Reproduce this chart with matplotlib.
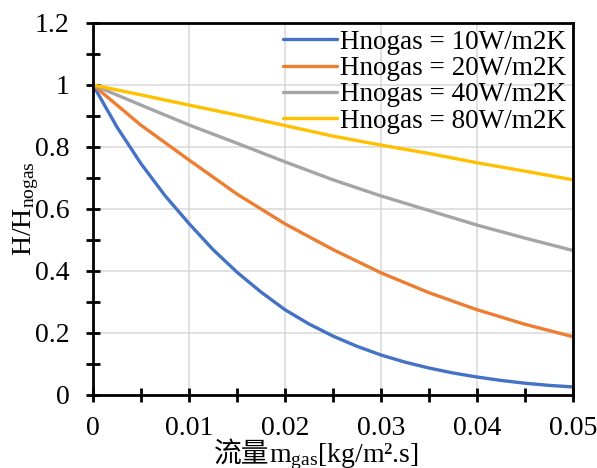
import matplotlib
matplotlib.use("Agg")
import matplotlib.pyplot as plt
from matplotlib.ticker import MultipleLocator, FuncFormatter

plt.rcParams['font.family'] = ['Liberation Serif', 'Noto Sans CJK SC']
plt.rcParams['mathtext.fontset'] = 'custom'
plt.rcParams['mathtext.rm'] = 'Liberation Serif'
plt.rcParams['mathtext.it'] = 'Liberation Serif:italic'

# gas mass flux [kg/m2.s]
m_gas = [0.0, 0.005, 0.01, 0.015, 0.02, 0.025, 0.03, 0.035, 0.04, 0.045, 0.05]
# finer steps for the steepest curve
m_gas_fine = [0.0, 0.0025, 0.005, 0.0075, 0.01, 0.0125, 0.015, 0.0175, 0.02,
              0.0225, 0.025, 0.0275, 0.03, 0.0325, 0.035, 0.0375, 0.04,
              0.0425, 0.045, 0.0475, 0.05]

# H/Hnogas for each no-gas heat transfer coefficient
h10 = [1.0, 0.864, 0.746, 0.643, 0.553, 0.469, 0.396, 0.332, 0.275,
       0.229, 0.19, 0.157, 0.129, 0.106, 0.087, 0.071, 0.058,
       0.047, 0.038, 0.031, 0.026]
h20 = [1.0, 0.87, 0.758, 0.648, 0.552, 0.469, 0.394, 0.33, 0.275, 0.228, 0.188]
h40 = [1.0, 0.935, 0.871, 0.812, 0.752, 0.694, 0.642, 0.595, 0.548, 0.506, 0.466]
h80 = [1.0, 0.968, 0.935, 0.903, 0.869, 0.835, 0.806, 0.779, 0.749, 0.722, 0.694]

labels = ['Hnogas = 10W/m2K', 'Hnogas = 20W/m2K',
          'Hnogas = 40W/m2K', 'Hnogas = 80W/m2K']
colors = ['#4472C4', '#ED7D31', '#A5A5A5', '#FFC000']

fig = plt.figure(figsize=(5.97, 4.68), dpi=100)
ax = fig.add_axes([0.1558, 0.156, 0.804, 0.795])

series = [(m_gas_fine, h10), (m_gas, h20), (m_gas, h40), (m_gas, h80)]
for (xs, ys), lab, c in zip(series, labels, colors):
    ax.plot(xs, ys, color=c, lw=2.4, label=lab, solid_capstyle='round')

ax.set_xlim(0, 0.05)
ax.set_ylim(0, 1.2)
ax.xaxis.set_major_locator(MultipleLocator(0.01))
ax.xaxis.set_minor_locator(MultipleLocator(0.005))
ax.yaxis.set_major_locator(MultipleLocator(0.2))
ax.yaxis.set_minor_locator(MultipleLocator(0.1))
fmt = FuncFormatter(lambda v, p: '%g' % round(v, 4))
ax.xaxis.set_major_formatter(fmt)
ax.yaxis.set_major_formatter(fmt)

ax.grid(True, which='major', color='#d9d9d9', lw=1.1)
ax.set_axisbelow(True)
for s in ax.spines.values():
    s.set_linewidth(2)
    s.set_color('black')

ax.tick_params(which='both', direction='inout', length=10, width=2,
               labelsize=20, top=False, right=False)
ax.tick_params(axis='x', pad=10)
ax.tick_params(axis='y', pad=12)

# x label: CJK part and the math part drawn side by side
base_y = 1 - 462 / 468
fig.text(269 / 597, base_y, '流量', fontsize=20,
         ha='right', va='baseline', family=['Noto Sans CJK SC'])
fig.text(269 / 597, base_y,
         '$\\mathregular{m_{gas}}$[kg/m².s]', fontsize=20,
         ha='left', va='baseline')

ax.set_ylabel('H/H$\\mathregular{_{nogas}}$', fontsize=20)
ax.yaxis.set_label_coords(-0.108, 0.5)

ax.legend(loc='upper right', bbox_to_anchor=(1.0, 1.0), frameon=False,
          fontsize=19.5, handlelength=2.0, handletextpad=0.1,
          labelspacing=0.05, borderaxespad=0.05, borderpad=0.2)

fig.savefig('out.png', dpi=100)
